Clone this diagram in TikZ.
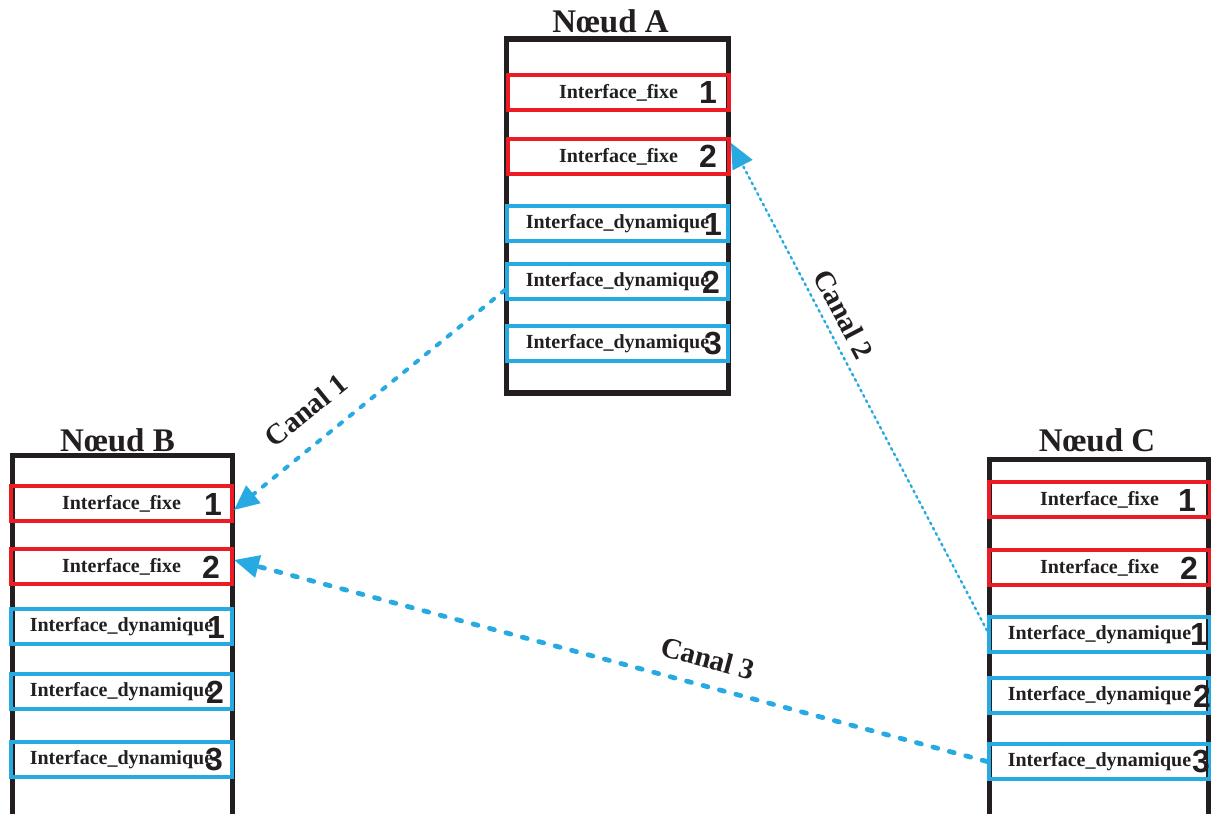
\documentclass[tikz,border=0pt]{standalone}
\usepackage{fontspec}
\setmainfont{Liberation Serif}
\setsansfont{Liberation Sans}
\usepackage{tikz}
\usepackage{xcolor}
\usetikzlibrary{arrows.meta, positioning}
\definecolor{reseauRed}{RGB}{237, 28, 36}
\definecolor{reseauBlue}{RGB}{39, 170, 225}
\definecolor{reseauBlack}{RGB}{35, 31, 32}

\begin{document}
\begin{tikzpicture}[x=0.5pt, y=0.5pt]
        \tikzstyle{cadre} = [rectangle, draw=reseauBlack, line width=2.6pt, minimum width=110.5pt, inner sep=0pt]
        \tikzstyle{titre} = [font=\fontsize{16.5}{18}\selectfont\bfseries, text=reseauBlack, inner sep=0pt]
        \tikzstyle{iface} = [rectangle, line width=2pt, minimum width=110.5pt, minimum height=17.5pt, inner sep=0pt, font=\fontsize{10}{12}\selectfont\bfseries, text=reseauBlack]
        \tikzstyle{fixe} = [iface, draw=reseauRed]
        \tikzstyle{dyn} = [iface, draw=reseauBlue]
        \tikzstyle{num} = [anchor=center, inner sep=0pt, font=\fontsize{16}{18}\selectfont\sffamily\bfseries, text=reseauBlack]
        \tikzstyle{canal} = [reseauBlue, line cap=round, -{Triangle[length=12.5pt, width=11pt]}]
        \tikzstyle{etiq} = [sloped, inner sep=0pt, font=\fontsize{14.5}{16}\selectfont\bfseries, text=reseauBlack]
        
        \clip (0,0) rectangle (1211,814);
        \fill[white] (0,0) rectangle (1211,814);
        
        % Noeud A
        \node[cadre, minimum width=111pt, minimum height=177pt] (A) at (617.5,598) {};
        \node[titre, above=1.7pt of A, xshift=-3.5pt] (titreA) {Nœud A};
        \node[fixe, label={[num, xshift=-11.5pt]east:1}] (a1) at (618.5,721.5) {Interface\_fixe};
        \node[fixe, label={[num, xshift=-11.5pt]east:2}] (a2) at (618.5,657.5) {Interface\_fixe};
        \node[dyn, label={[num, xshift=-8.5pt]east:1}] (a3) at (617.5,590) {Interface\_dynamique};
        \node[dyn, label={[num, xshift=-9.5pt]east:2}] (a4) at (617.5,532) {Interface\_dynamique};
        \node[dyn, label={[num, xshift=-8.5pt]east:3}] (a5) at (617.5,470) {Interface\_dynamique};
        
        % Noeud B
        \node[cadre, minimum width=110pt, minimum height=200pt] (B) at (122.5,158.5) {};
        \node[titre, above=0.5pt of B, xshift=-2.5pt] (titreB) {Nœud B};
        \node[fixe, label={[num, xshift=-10.5pt]east:1}] (b1) at (121.5,310) {Interface\_fixe};
        \node[fixe, label={[num, xshift=-11.5pt]east:2}] (b2) at (121.5,247) {Interface\_fixe};
        \node[dyn, label={[num, xshift=-9pt]east:1}] (b3) at (121.5,187) {Interface\_dynamique};
        \node[dyn, label={[num, xshift=-9.5pt]east:2}] (b4) at (121.5,122) {Interface\_dynamique};
        \node[dyn, label={[num, xshift=-10pt]east:3}] (b5) at (121.5,54.5) {Interface\_dynamique};
        
        % Noeud C
        \node[cadre, minimum width=109.5pt, minimum height=200pt] (C) at (1099,154.5) {};
        \node[titre, above=2.4pt of C, xshift=-1pt] (titreC) {Nœud C};
        \node[fixe, label={[num, xshift=-12.5pt]east:1}] (c1) at (1099.5,314) {Interface\_fixe};
        \node[fixe, label={[num, xshift=-11.5pt]east:2}] (c2) at (1099.5,246) {Interface\_fixe};
        \node[dyn, label={[num, xshift=-6.5pt]east:1}] (c3) at (1099.5,179.5) {Interface\_dynamique};
        \node[dyn, label={[num, xshift=-5pt]east:2}] (c4) at (1099.5,118) {Interface\_dynamique};
        \node[dyn, label={[num, xshift=-5.5pt]east:3}] (c5) at (1099.5,52.5) {Interface\_dynamique};
        
        % canaux
        \draw[canal, line width=2pt, dash pattern=on 2pt off 5pt] ([yshift=-4pt]a4.west) -- ([yshift=-3pt]b1.east)
            node[etiq, pos=0.66, above=10pt] {Canal 1};
        \draw[canal, line width=1.2pt, dash pattern=on 1pt off 2pt] ([yshift=2pt]c3.west) -- ([yshift=-3pt]a2.north east)
            node[etiq, pos=0.63, above=4.5pt] {Canal 2};
        \draw[canal, line width=2.4pt, dash pattern=on 2.5pt off 6pt] (c5.west) -- ([yshift=3.5pt]b2.east)
            node[etiq, pos=0.38, above=7.5pt] {Canal 3};
    \end{tikzpicture}
\end{document}
